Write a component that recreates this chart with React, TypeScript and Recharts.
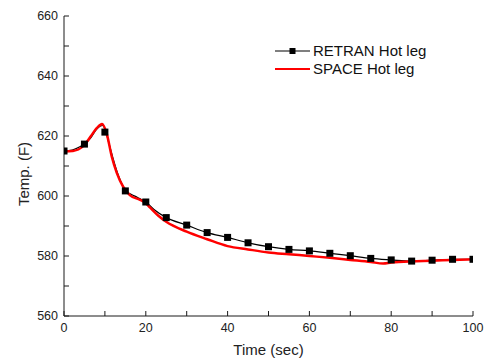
import { Label, Line, LineChart, XAxis, YAxis } from 'recharts';

// RETRAN hot leg: square markers every 5 s
const retranMarkTime = [0, 5, 10, 15, 20, 25, 30, 35, 40, 45, 50, 55, 60, 65, 70, 75, 80, 85, 90, 95, 100];
const retranMarkTemp = [
  615, 617.3, 621.3, 601.7, 598, 592.8, 590.3, 587.8, 586.2, 584.4, 583.1, 582.2, 581.7, 580.9, 580.1,
  579.2, 578.7, 578.3, 578.6, 578.9, 578.9,
];

// RETRAN hot leg: the thin connecting curve (denser around the peak)
const retranCurveTime = [
  0, 2, 4, 5, 6.5, 8, 9.5, 10.2, 11, 12, 13, 14, 15, 16.5, 18, 20, 22, 25, 30, 35, 40, 45, 50, 55, 60, 65,
  70, 75, 80, 85, 90, 95, 100,
];
const retranCurveTemp = [
  615, 615.3, 616.5, 617.3, 619.3, 622.3, 623.5, 621.5, 617.5, 612.5, 608, 604.5, 601.7, 600.5, 599.5,
  598, 595.5, 592.8, 590.3, 587.8, 586.2, 584.4, 583.1, 582.2, 581.7, 580.9, 580.1, 579.2, 578.7, 578.3,
  578.6, 578.9, 578.9,
];

// SPACE hot leg
const spaceTime = [
  0, 2, 3.5, 5, 6.5, 8, 9.3, 10.4, 11.7, 12.9, 14.5, 16.1, 18.6, 20, 21, 23, 25, 30, 35, 40, 45, 50, 55,
  60, 65, 70, 75, 78, 80, 85, 90, 95, 100,
];
const spaceTemp = [
  614.8, 615, 615.5, 617, 619.8, 622.6, 624, 621, 613, 607.7, 603, 600.3, 598.7, 597.6, 596.2, 593.5,
  591.4, 588.1, 585.6, 583.3, 582.2, 581.2, 580.6, 580, 579.4, 578.7, 578, 577.5, 577.8, 578.2, 578.4,
  578.7, 578.9,
];

const xTicks = [0, 10, 20, 30, 40, 50, 60, 70, 80, 90, 100];
const yTicks = [560, 570, 580, 590, 600, 610, 620, 630, 640, 650, 660];
const xLabels = [0, 20, 40, 60, 80, 100];
const yLabels = [560, 580, 600, 620, 640, 660];

const retranMarks = retranMarkTime.map((t, i) => ({ t, v: retranMarkTemp[i] }));
const retranCurve = retranCurveTime.map((t, i) => ({ t, v: retranCurveTemp[i] }));
const spaceCurve = spaceTime.map((t, i) => ({ t, v: spaceTemp[i] }));

const FONT = '"Liberation Sans", Arial, sans-serif';
const axisColor = '#1a1a1a';
const textColor = '#222';

const SquareDot = (props: any) => {
  const { cx, cy } = props;
  if (cx == null || cy == null) return null;
  return <rect x={cx - 3.5} y={cy - 3.5} width={7} height={7} fill="#000" />;
};

export default function App() {
  const tick = { fill: textColor, fontSize: 12.5 };

  return (
    <div style={{ position: 'absolute', left: 0, top: 0, width: 490, height: 361, fontFamily: FONT, background: '#fff' }}>
      <LineChart width={490} height={361} margin={{ top: 16, right: 17, bottom: 0, left: 0 }}>
        <XAxis
          dataKey="t"
          type="number"
          domain={[0, 100]}
          allowDataOverflow
          ticks={xTicks}
          interval={0}
          tickFormatter={(v) => (xLabels.includes(v) ? String(v) : '')}
          tick={tick}
          tickSize={-5}
          tickMargin={12}
          height={45}
          axisLine={{ stroke: axisColor }}
          tickLine={{ stroke: axisColor }}
        >
          <Label value="Time (sec)" position="insideBottom" offset={6} fill={textColor} fontSize={15} />
        </XAxis>
        <XAxis
          xAxisId="top"
          orientation="top"
          type="number"
          domain={[0, 100]}
          allowDataOverflow
          ticks={xTicks}
          interval={0}
          tickFormatter={() => ''}
          tickSize={-5}
          height={0}
          axisLine={{ stroke: axisColor }}
          tickLine={{ stroke: axisColor }}
        />
        <YAxis
          type="number"
          domain={[560, 660]}
          allowDataOverflow
          ticks={yTicks}
          interval={0}
          tickFormatter={(v) => (yLabels.includes(v) ? String(v) : '')}
          tick={tick}
          tickSize={-5}
          tickMargin={11}
          width={64}
          axisLine={{ stroke: axisColor }}
          tickLine={{ stroke: axisColor }}
        >
          <Label
            value="Temp. (F)"
            angle={-90}
            position="insideLeft"
            offset={24}
            dy={8}
            fill={textColor}
            fontSize={15}
            style={{ textAnchor: 'middle' }}
          />
        </YAxis>
        <YAxis
          yAxisId="right"
          orientation="right"
          type="number"
          domain={[560, 660]}
          allowDataOverflow
          ticks={yTicks}
          interval={0}
          tickFormatter={() => ''}
          tickSize={-5}
          width={0}
          axisLine={{ stroke: axisColor }}
          tickLine={{ stroke: axisColor }}
        />
        <Line
          data={retranCurve}
          dataKey="v"
          type="monotone"
          stroke="#000"
          strokeWidth={1.2}
          dot={false}
          activeDot={false}
          isAnimationActive={false}
        />
        <Line
          data={retranMarks}
          dataKey="v"
          stroke="none"
          dot={<SquareDot />}
          activeDot={false}
          isAnimationActive={false}
        />
        <Line
          data={spaceCurve}
          dataKey="v"
          type="monotone"
          stroke="#ff0000"
          strokeWidth={2.5}
          dot={false}
          activeDot={false}
          isAnimationActive={false}
        />
      </LineChart>

      {/* legend, top-right inside the plot */}
      <div style={{ position: 'absolute', left: 274, top: 42, fontSize: 15, color: '#111', lineHeight: '18px' }}>
        <div style={{ display: 'flex', alignItems: 'center', height: 18 }}>
          <svg width={38} height={18} style={{ display: 'block' }}>
            <line x1={1} y1={9} x2={36} y2={9} stroke="#555" strokeWidth={1.5} />
            <rect x={15.5} y={6} width={6} height={6} fill="#000" />
          </svg>
          <span style={{ marginLeft: 1 }}>RETRAN Hot leg</span>
        </div>
        <div style={{ display: 'flex', alignItems: 'center', height: 18 }}>
          <svg width={38} height={18} style={{ display: 'block' }}>
            <line x1={1} y1={9} x2={36} y2={9} stroke="#ff0000" strokeWidth={2} />
          </svg>
          <span style={{ marginLeft: 1 }}>SPACE Hot leg</span>
        </div>
      </div>
    </div>
  );
}
